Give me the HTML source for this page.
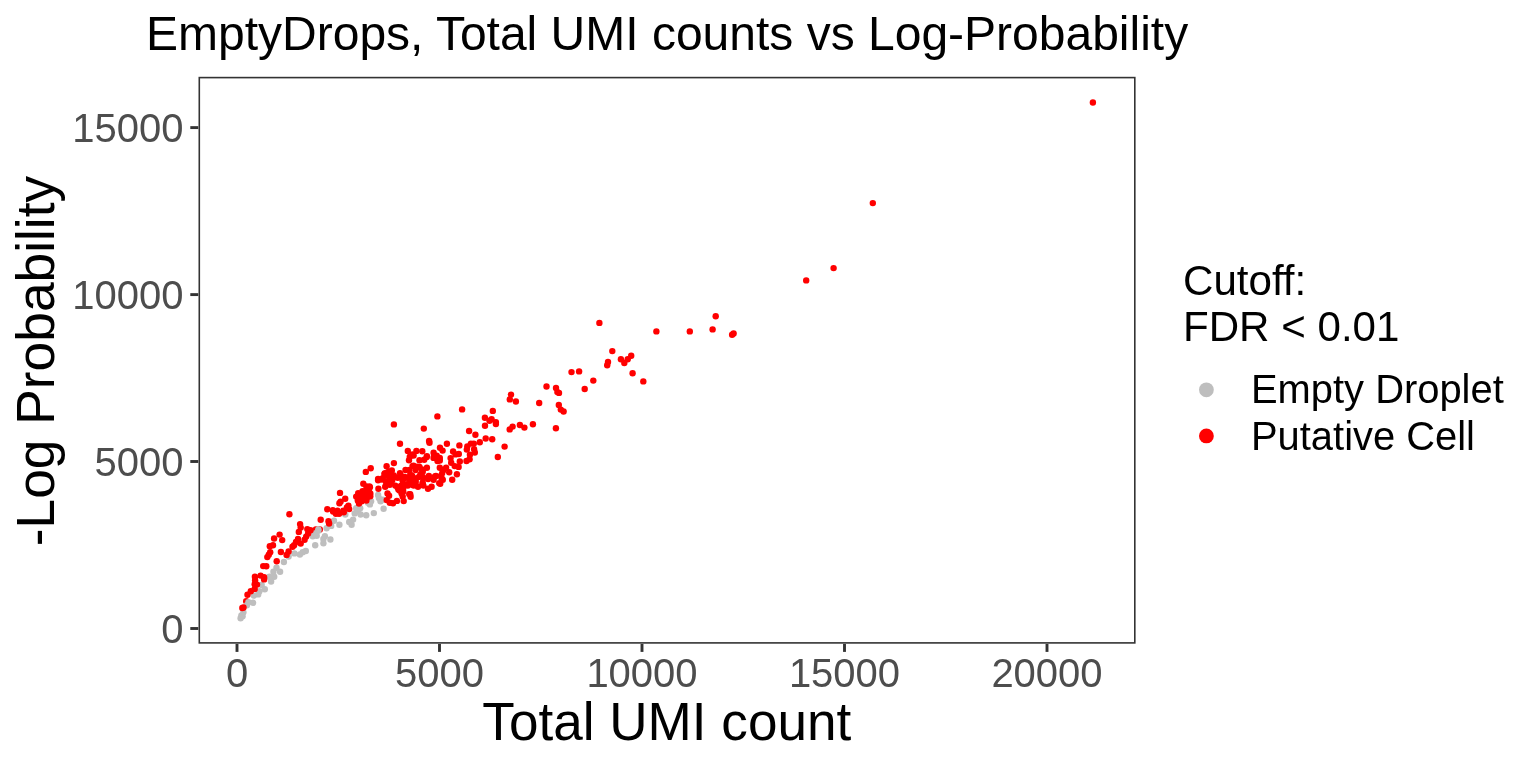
<!DOCTYPE html>
<html><head><meta charset="utf-8"><title>EmptyDrops</title>
<style>
html,body{margin:0;padding:0;background:#fff;}
body{width:1536px;height:768px;overflow:hidden;}
svg{display:block}
text{font-family:"Liberation Sans",Arial,sans-serif;}
.tk{fill:#4d4d4d;font-size:40px}
</style></head><body>
<svg width="1536" height="768" viewBox="0 0 1536 768">
<rect width="1536" height="768" fill="#fff"/>
<text x="146" y="49.7" font-size="48" fill="#000">EmptyDrops, Total UMI counts vs Log-Probability</text>
<g id="pts">
<circle cx="315.9" cy="529.5" r="3.2" fill="#ff0000"/><circle cx="319.8" cy="529.5" r="3.2" fill="#ff0000"/><circle cx="246.2" cy="601.2" r="3.2" fill="#ff0000"/><circle cx="378.1" cy="495.0" r="3.2" fill="#bebebe"/><circle cx="378.9" cy="498.1" r="3.2" fill="#bebebe"/><circle cx="380.5" cy="501.2" r="3.2" fill="#bebebe"/><circle cx="382.8" cy="499.7" r="3.2" fill="#bebebe"/><circle cx="383.6" cy="508.8" r="3.2" fill="#bebebe"/><circle cx="371.1" cy="501.2" r="3.2" fill="#bebebe"/><circle cx="369.9" cy="504.4" r="3.2" fill="#bebebe"/><circle cx="368.0" cy="502.8" r="3.2" fill="#bebebe"/><circle cx="373.8" cy="513.1" r="3.2" fill="#bebebe"/><circle cx="366.2" cy="515.2" r="3.2" fill="#bebebe"/><circle cx="356.2" cy="508.3" r="3.2" fill="#bebebe"/><circle cx="360.2" cy="508.3" r="3.2" fill="#bebebe"/><circle cx="357.8" cy="511.4" r="3.2" fill="#bebebe"/><circle cx="354.7" cy="513.4" r="3.2" fill="#bebebe"/><circle cx="360.6" cy="514.5" r="3.2" fill="#bebebe"/><circle cx="345.3" cy="514.5" r="3.2" fill="#bebebe"/><circle cx="353.1" cy="519.6" r="3.2" fill="#bebebe"/><circle cx="349.2" cy="522.0" r="3.2" fill="#bebebe"/><circle cx="351.6" cy="524.7" r="3.2" fill="#bebebe"/><circle cx="339.4" cy="524.7" r="3.2" fill="#bebebe"/><circle cx="334.0" cy="520.8" r="3.2" fill="#bebebe"/><circle cx="331.2" cy="525.9" r="3.2" fill="#bebebe"/><circle cx="326.6" cy="528.2" r="3.2" fill="#bebebe"/><circle cx="318.4" cy="529.4" r="3.2" fill="#bebebe"/><circle cx="318.3" cy="530.7" r="3.2" fill="#bebebe"/><circle cx="314.4" cy="533.4" r="3.2" fill="#bebebe"/><circle cx="312.8" cy="536.2" r="3.2" fill="#bebebe"/><circle cx="316.7" cy="535.8" r="3.2" fill="#bebebe"/><circle cx="324.9" cy="536.2" r="3.2" fill="#bebebe"/><circle cx="323.4" cy="538.9" r="3.2" fill="#bebebe"/><circle cx="330.4" cy="539.5" r="3.2" fill="#bebebe"/><circle cx="323.4" cy="543.2" r="3.2" fill="#bebebe"/><circle cx="315.2" cy="545.3" r="3.2" fill="#bebebe"/><circle cx="305.8" cy="551.0" r="3.2" fill="#bebebe"/><circle cx="302.7" cy="552.2" r="3.2" fill="#bebebe"/><circle cx="299.9" cy="554.5" r="3.2" fill="#bebebe"/><circle cx="294.4" cy="553.4" r="3.2" fill="#bebebe"/><circle cx="288.6" cy="556.5" r="3.2" fill="#bebebe"/><circle cx="283.9" cy="562.0" r="3.2" fill="#bebebe"/><circle cx="276.5" cy="567.8" r="3.2" fill="#bebebe"/><circle cx="280.1" cy="571.7" r="3.2" fill="#bebebe"/><circle cx="273.4" cy="571.7" r="3.2" fill="#bebebe"/><circle cx="274.2" cy="576.8" r="3.2" fill="#bebebe"/><circle cx="269.5" cy="576.8" r="3.2" fill="#bebebe"/><circle cx="271.1" cy="581.5" r="3.2" fill="#bebebe"/><circle cx="261.7" cy="585.0" r="3.2" fill="#bebebe"/><circle cx="264.8" cy="589.3" r="3.2" fill="#bebebe"/><circle cx="259.4" cy="591.2" r="3.2" fill="#bebebe"/><circle cx="258.2" cy="594.4" r="3.2" fill="#bebebe"/><circle cx="253.9" cy="595.5" r="3.2" fill="#bebebe"/><circle cx="248.4" cy="602.2" r="3.2" fill="#bebebe"/><circle cx="253.1" cy="602.8" r="3.2" fill="#bebebe"/><circle cx="246.9" cy="605.3" r="3.2" fill="#bebebe"/><circle cx="243.4" cy="612.3" r="3.2" fill="#bebebe"/><circle cx="241.4" cy="615.5" r="3.2" fill="#bebebe"/><circle cx="242.6" cy="616.2" r="3.2" fill="#bebebe"/><circle cx="240.6" cy="618.2" r="3.2" fill="#bebebe"/><circle cx="1092.9" cy="102.5" r="3.2" fill="#ff0000"/><circle cx="872.8" cy="203.1" r="3.2" fill="#ff0000"/><circle cx="833.6" cy="268.1" r="3.2" fill="#ff0000"/><circle cx="806.2" cy="280.4" r="3.2" fill="#ff0000"/><circle cx="715.7" cy="316.3" r="3.2" fill="#ff0000"/><circle cx="656.4" cy="331.4" r="3.2" fill="#ff0000"/><circle cx="689.8" cy="331.4" r="3.2" fill="#ff0000"/><circle cx="712.6" cy="329.4" r="3.2" fill="#ff0000"/><circle cx="732.1" cy="334.8" r="3.2" fill="#ff0000"/><circle cx="733.6" cy="333.4" r="3.2" fill="#ff0000"/><circle cx="599.4" cy="322.9" r="3.2" fill="#ff0000"/><circle cx="612.3" cy="351.1" r="3.2" fill="#ff0000"/><circle cx="631.2" cy="355.7" r="3.2" fill="#ff0000"/><circle cx="627.7" cy="359.2" r="3.2" fill="#ff0000"/><circle cx="620.9" cy="359.2" r="3.2" fill="#ff0000"/><circle cx="624.3" cy="363.0" r="3.2" fill="#ff0000"/><circle cx="608.0" cy="361.9" r="3.2" fill="#ff0000"/><circle cx="607.2" cy="365.2" r="3.2" fill="#ff0000"/><circle cx="632.6" cy="373.3" r="3.2" fill="#ff0000"/><circle cx="643.3" cy="381.4" r="3.2" fill="#ff0000"/><circle cx="571.5" cy="372.1" r="3.2" fill="#ff0000"/><circle cx="579.1" cy="371.4" r="3.2" fill="#ff0000"/><circle cx="593.3" cy="380.6" r="3.2" fill="#ff0000"/><circle cx="584.7" cy="389.0" r="3.2" fill="#ff0000"/><circle cx="546.5" cy="386.5" r="3.2" fill="#ff0000"/><circle cx="556.0" cy="387.9" r="3.2" fill="#ff0000"/><circle cx="559.0" cy="392.9" r="3.2" fill="#ff0000"/><circle cx="557.4" cy="392.1" r="3.2" fill="#ff0000"/><circle cx="539.2" cy="403.0" r="3.2" fill="#ff0000"/><circle cx="558.8" cy="405.0" r="3.2" fill="#ff0000"/><circle cx="560.8" cy="409.6" r="3.2" fill="#ff0000"/><circle cx="563.6" cy="411.5" r="3.2" fill="#ff0000"/><circle cx="555.9" cy="428.2" r="3.2" fill="#ff0000"/><circle cx="511.0" cy="394.6" r="3.2" fill="#ff0000"/><circle cx="509.8" cy="399.4" r="3.2" fill="#ff0000"/><circle cx="515.9" cy="401.5" r="3.2" fill="#ff0000"/><circle cx="492.8" cy="410.9" r="3.2" fill="#ff0000"/><circle cx="462.1" cy="409.4" r="3.2" fill="#ff0000"/><circle cx="484.9" cy="417.7" r="3.2" fill="#ff0000"/><circle cx="491.6" cy="419.2" r="3.2" fill="#ff0000"/><circle cx="489.5" cy="420.8" r="3.2" fill="#ff0000"/><circle cx="495.9" cy="422.1" r="3.2" fill="#ff0000"/><circle cx="495.9" cy="424.0" r="3.2" fill="#ff0000"/><circle cx="485.0" cy="425.7" r="3.2" fill="#ff0000"/><circle cx="512.6" cy="426.6" r="3.2" fill="#ff0000"/><circle cx="509.7" cy="429.4" r="3.2" fill="#ff0000"/><circle cx="519.9" cy="425.0" r="3.2" fill="#ff0000"/><circle cx="524.4" cy="427.6" r="3.2" fill="#ff0000"/><circle cx="532.9" cy="424.3" r="3.2" fill="#ff0000"/><circle cx="469.1" cy="431.0" r="3.2" fill="#ff0000"/><circle cx="475.4" cy="434.7" r="3.2" fill="#ff0000"/><circle cx="485.7" cy="438.5" r="3.2" fill="#ff0000"/><circle cx="492.2" cy="439.3" r="3.2" fill="#ff0000"/><circle cx="479.8" cy="442.2" r="3.2" fill="#ff0000"/><circle cx="504.6" cy="446.6" r="3.2" fill="#ff0000"/><circle cx="497.8" cy="457.0" r="3.2" fill="#ff0000"/><circle cx="470.9" cy="443.6" r="3.2" fill="#ff0000"/><circle cx="473.8" cy="443.6" r="3.2" fill="#ff0000"/><circle cx="467.3" cy="446.5" r="3.2" fill="#ff0000"/><circle cx="466.8" cy="449.6" r="3.2" fill="#ff0000"/><circle cx="474.1" cy="449.2" r="3.2" fill="#ff0000"/><circle cx="474.8" cy="452.5" r="3.2" fill="#ff0000"/><circle cx="469.9" cy="454.8" r="3.2" fill="#ff0000"/><circle cx="469.6" cy="459.3" r="3.2" fill="#ff0000"/><circle cx="466.5" cy="461.0" r="3.2" fill="#ff0000"/><circle cx="423.8" cy="428.6" r="3.2" fill="#ff0000"/><circle cx="429.1" cy="440.9" r="3.2" fill="#ff0000"/><circle cx="429.5" cy="442.7" r="3.2" fill="#ff0000"/><circle cx="400.0" cy="443.7" r="3.2" fill="#ff0000"/><circle cx="446.9" cy="443.8" r="3.2" fill="#ff0000"/><circle cx="459.4" cy="445.4" r="3.2" fill="#ff0000"/><circle cx="440.0" cy="447.7" r="3.2" fill="#ff0000"/><circle cx="442.6" cy="450.6" r="3.2" fill="#ff0000"/><circle cx="453.1" cy="451.4" r="3.2" fill="#ff0000"/><circle cx="458.8" cy="454.0" r="3.2" fill="#ff0000"/><circle cx="455.5" cy="454.4" r="3.2" fill="#ff0000"/><circle cx="450.6" cy="458.1" r="3.2" fill="#ff0000"/><circle cx="451.2" cy="462.8" r="3.2" fill="#ff0000"/><circle cx="459.8" cy="461.4" r="3.2" fill="#ff0000"/><circle cx="458.6" cy="466.9" r="3.2" fill="#ff0000"/><circle cx="454.7" cy="466.1" r="3.2" fill="#ff0000"/><circle cx="456.9" cy="474.3" r="3.2" fill="#ff0000"/><circle cx="452.2" cy="479.8" r="3.2" fill="#ff0000"/><circle cx="449.2" cy="472.3" r="3.2" fill="#ff0000"/><circle cx="446.1" cy="467.7" r="3.2" fill="#ff0000"/><circle cx="439.8" cy="467.7" r="3.2" fill="#ff0000"/><circle cx="442.2" cy="473.1" r="3.2" fill="#ff0000"/><circle cx="441.4" cy="477.8" r="3.2" fill="#ff0000"/><circle cx="435.9" cy="475.9" r="3.2" fill="#ff0000"/><circle cx="433.6" cy="452.8" r="3.2" fill="#ff0000"/><circle cx="436.7" cy="455.6" r="3.2" fill="#ff0000"/><circle cx="439.8" cy="457.9" r="3.2" fill="#ff0000"/><circle cx="433.6" cy="457.9" r="3.2" fill="#ff0000"/><circle cx="437.5" cy="461.0" r="3.2" fill="#ff0000"/><circle cx="439.8" cy="460.6" r="3.2" fill="#ff0000"/><circle cx="407.8" cy="450.9" r="3.2" fill="#ff0000"/><circle cx="416.4" cy="450.9" r="3.2" fill="#ff0000"/><circle cx="422.3" cy="451.2" r="3.2" fill="#ff0000"/><circle cx="412.5" cy="454.4" r="3.2" fill="#ff0000"/><circle cx="409.8" cy="456.7" r="3.2" fill="#ff0000"/><circle cx="409.0" cy="460.2" r="3.2" fill="#ff0000"/><circle cx="426.9" cy="456.1" r="3.2" fill="#ff0000"/><circle cx="424.2" cy="459.8" r="3.2" fill="#ff0000"/><circle cx="419.5" cy="460.2" r="3.2" fill="#ff0000"/><circle cx="412.5" cy="466.1" r="3.2" fill="#ff0000"/><circle cx="419.5" cy="466.9" r="3.2" fill="#ff0000"/><circle cx="426.9" cy="467.8" r="3.2" fill="#ff0000"/><circle cx="415.6" cy="470.0" r="3.2" fill="#ff0000"/><circle cx="422.7" cy="470.8" r="3.2" fill="#ff0000"/><circle cx="405.5" cy="470.0" r="3.2" fill="#ff0000"/><circle cx="400.0" cy="473.1" r="3.2" fill="#ff0000"/><circle cx="410.2" cy="474.7" r="3.2" fill="#ff0000"/><circle cx="420.3" cy="474.7" r="3.2" fill="#ff0000"/><circle cx="428.9" cy="475.9" r="3.2" fill="#ff0000"/><circle cx="423.4" cy="477.8" r="3.2" fill="#ff0000"/><circle cx="442.8" cy="479.8" r="3.2" fill="#ff0000"/><circle cx="440.2" cy="483.7" r="3.2" fill="#ff0000"/><circle cx="433.6" cy="479.8" r="3.2" fill="#ff0000"/><circle cx="428.1" cy="479.0" r="3.2" fill="#ff0000"/><circle cx="431.6" cy="486.8" r="3.2" fill="#ff0000"/><circle cx="428.0" cy="488.8" r="3.2" fill="#ff0000"/><circle cx="422.7" cy="482.5" r="3.2" fill="#ff0000"/><circle cx="423.4" cy="485.6" r="3.2" fill="#ff0000"/><circle cx="418.0" cy="486.8" r="3.2" fill="#ff0000"/><circle cx="413.7" cy="485.6" r="3.2" fill="#ff0000"/><circle cx="415.6" cy="480.2" r="3.2" fill="#ff0000"/><circle cx="404.7" cy="477.0" r="3.2" fill="#ff0000"/><circle cx="410.2" cy="480.2" r="3.2" fill="#ff0000"/><circle cx="402.7" cy="484.8" r="3.2" fill="#ff0000"/><circle cx="407.0" cy="484.1" r="3.2" fill="#ff0000"/><circle cx="403.1" cy="488.8" r="3.2" fill="#ff0000"/><circle cx="402.3" cy="492.7" r="3.2" fill="#ff0000"/><circle cx="402.7" cy="496.6" r="3.2" fill="#ff0000"/><circle cx="403.7" cy="501.1" r="3.2" fill="#ff0000"/><circle cx="409.2" cy="494.1" r="3.2" fill="#ff0000"/><circle cx="410.6" cy="496.7" r="3.2" fill="#ff0000"/><circle cx="393.9" cy="424.4" r="3.2" fill="#ff0000"/><circle cx="393.9" cy="463.1" r="3.2" fill="#ff0000"/><circle cx="386.6" cy="466.2" r="3.2" fill="#ff0000"/><circle cx="370.7" cy="468.3" r="3.2" fill="#ff0000"/><circle cx="365.8" cy="471.9" r="3.2" fill="#ff0000"/><circle cx="391.8" cy="470.4" r="3.2" fill="#ff0000"/><circle cx="388.3" cy="471.9" r="3.2" fill="#ff0000"/><circle cx="384.4" cy="473.9" r="3.2" fill="#ff0000"/><circle cx="378.1" cy="479.0" r="3.2" fill="#ff0000"/><circle cx="382.8" cy="478.2" r="3.2" fill="#ff0000"/><circle cx="393.8" cy="475.5" r="3.2" fill="#ff0000"/><circle cx="401.6" cy="476.2" r="3.2" fill="#ff0000"/><circle cx="409.4" cy="470.0" r="3.2" fill="#ff0000"/><circle cx="378.1" cy="480.2" r="3.2" fill="#ff0000"/><circle cx="385.9" cy="474.7" r="3.2" fill="#ff0000"/><circle cx="389.8" cy="472.3" r="3.2" fill="#ff0000"/><circle cx="397.7" cy="477.8" r="3.2" fill="#ff0000"/><circle cx="392.2" cy="480.2" r="3.2" fill="#ff0000"/><circle cx="385.9" cy="481.7" r="3.2" fill="#ff0000"/><circle cx="389.8" cy="484.8" r="3.2" fill="#ff0000"/><circle cx="385.2" cy="486.8" r="3.2" fill="#ff0000"/><circle cx="395.3" cy="485.6" r="3.2" fill="#ff0000"/><circle cx="398.4" cy="489.5" r="3.2" fill="#ff0000"/><circle cx="401.6" cy="485.6" r="3.2" fill="#ff0000"/><circle cx="405.5" cy="477.8" r="3.2" fill="#ff0000"/><circle cx="413.3" cy="477.8" r="3.2" fill="#ff0000"/><circle cx="415.6" cy="482.5" r="3.2" fill="#ff0000"/><circle cx="412.5" cy="484.8" r="3.2" fill="#ff0000"/><circle cx="407.8" cy="485.6" r="3.2" fill="#ff0000"/><circle cx="401.6" cy="493.4" r="3.2" fill="#ff0000"/><circle cx="410.2" cy="494.2" r="3.2" fill="#ff0000"/><circle cx="378.4" cy="488.8" r="3.2" fill="#ff0000"/><circle cx="387.5" cy="493.4" r="3.2" fill="#ff0000"/><circle cx="389.1" cy="495.8" r="3.2" fill="#ff0000"/><circle cx="386.7" cy="500.1" r="3.2" fill="#ff0000"/><circle cx="389.8" cy="502.8" r="3.2" fill="#ff0000"/><circle cx="393.0" cy="503.2" r="3.2" fill="#ff0000"/><circle cx="396.9" cy="500.9" r="3.2" fill="#ff0000"/><circle cx="363.3" cy="483.7" r="3.2" fill="#ff0000"/><circle cx="366.4" cy="486.4" r="3.2" fill="#ff0000"/><circle cx="369.5" cy="486.4" r="3.2" fill="#ff0000"/><circle cx="368.8" cy="490.3" r="3.2" fill="#ff0000"/><circle cx="370.3" cy="493.4" r="3.2" fill="#ff0000"/><circle cx="366.4" cy="494.2" r="3.2" fill="#ff0000"/><circle cx="370.3" cy="496.2" r="3.2" fill="#ff0000"/><circle cx="364.8" cy="498.9" r="3.2" fill="#ff0000"/><circle cx="358.2" cy="493.1" r="3.2" fill="#ff0000"/><circle cx="356.2" cy="496.6" r="3.2" fill="#ff0000"/><circle cx="359.4" cy="496.6" r="3.2" fill="#ff0000"/><circle cx="357.8" cy="500.5" r="3.2" fill="#ff0000"/><circle cx="359.0" cy="503.6" r="3.2" fill="#ff0000"/><circle cx="361.7" cy="501.2" r="3.2" fill="#ff0000"/><circle cx="366.4" cy="500.5" r="3.2" fill="#ff0000"/><circle cx="340.0" cy="492.9" r="3.2" fill="#ff0000"/><circle cx="345.2" cy="498.8" r="3.2" fill="#ff0000"/><circle cx="340.6" cy="501.6" r="3.2" fill="#ff0000"/><circle cx="339.4" cy="503.2" r="3.2" fill="#ff0000"/><circle cx="348.4" cy="505.6" r="3.2" fill="#ff0000"/><circle cx="346.9" cy="507.5" r="3.2" fill="#ff0000"/><circle cx="349.2" cy="509.1" r="3.2" fill="#ff0000"/><circle cx="327.3" cy="509.3" r="3.2" fill="#ff0000"/><circle cx="332.8" cy="510.2" r="3.2" fill="#ff0000"/><circle cx="337.5" cy="510.6" r="3.2" fill="#ff0000"/><circle cx="335.9" cy="513.8" r="3.2" fill="#ff0000"/><circle cx="339.1" cy="513.8" r="3.2" fill="#ff0000"/><circle cx="343.8" cy="512.2" r="3.2" fill="#ff0000"/><circle cx="320.7" cy="519.8" r="3.2" fill="#ff0000"/><circle cx="328.5" cy="521.2" r="3.2" fill="#ff0000"/><circle cx="329.1" cy="523.5" r="3.2" fill="#ff0000"/><circle cx="289.4" cy="514.3" r="3.2" fill="#ff0000"/><circle cx="333.1" cy="511.6" r="3.2" fill="#ff0000"/><circle cx="343.3" cy="510.8" r="3.2" fill="#ff0000"/><circle cx="300.1" cy="524.1" r="3.2" fill="#ff0000"/><circle cx="300.7" cy="527.6" r="3.2" fill="#ff0000"/><circle cx="298.8" cy="531.9" r="3.2" fill="#ff0000"/><circle cx="307.3" cy="529.1" r="3.2" fill="#ff0000"/><circle cx="310.5" cy="530.3" r="3.2" fill="#ff0000"/><circle cx="308.1" cy="533.4" r="3.2" fill="#ff0000"/><circle cx="306.2" cy="536.6" r="3.2" fill="#ff0000"/><circle cx="304.6" cy="539.7" r="3.2" fill="#ff0000"/><circle cx="298.0" cy="538.9" r="3.2" fill="#ff0000"/><circle cx="296.0" cy="542.0" r="3.2" fill="#ff0000"/><circle cx="300.7" cy="543.6" r="3.2" fill="#ff0000"/><circle cx="294.1" cy="545.2" r="3.2" fill="#ff0000"/><circle cx="292.5" cy="546.7" r="3.2" fill="#ff0000"/><circle cx="279.6" cy="534.6" r="3.2" fill="#ff0000"/><circle cx="274.1" cy="538.5" r="3.2" fill="#ff0000"/><circle cx="282.2" cy="540.1" r="3.2" fill="#ff0000"/><circle cx="273.0" cy="545.2" r="3.2" fill="#ff0000"/><circle cx="269.8" cy="546.3" r="3.2" fill="#ff0000"/><circle cx="270.2" cy="552.2" r="3.2" fill="#ff0000"/><circle cx="268.8" cy="554.7" r="3.2" fill="#ff0000"/><circle cx="267.3" cy="557.1" r="3.2" fill="#ff0000"/><circle cx="280.9" cy="552.0" r="3.2" fill="#ff0000"/><circle cx="288.6" cy="551.4" r="3.2" fill="#ff0000"/><circle cx="286.6" cy="554.9" r="3.2" fill="#ff0000"/><circle cx="276.7" cy="561.3" r="3.2" fill="#ff0000"/><circle cx="263.2" cy="566.1" r="3.2" fill="#ff0000"/><circle cx="266.3" cy="566.2" r="3.2" fill="#ff0000"/><circle cx="254.9" cy="576.8" r="3.2" fill="#ff0000"/><circle cx="260.6" cy="575.6" r="3.2" fill="#ff0000"/><circle cx="264.1" cy="577.2" r="3.2" fill="#ff0000"/><circle cx="264.1" cy="579.4" r="3.2" fill="#ff0000"/><circle cx="255.1" cy="580.3" r="3.2" fill="#ff0000"/><circle cx="254.7" cy="584.2" r="3.2" fill="#ff0000"/><circle cx="257.0" cy="584.6" r="3.2" fill="#ff0000"/><circle cx="254.7" cy="588.9" r="3.2" fill="#ff0000"/><circle cx="250.8" cy="591.2" r="3.2" fill="#ff0000"/><circle cx="247.5" cy="594.8" r="3.2" fill="#ff0000"/><circle cx="243.5" cy="607.5" r="3.2" fill="#ff0000"/><circle cx="242.3" cy="608.0" r="3.2" fill="#ff0000"/><circle cx="437.4" cy="416.4" r="3.2" fill="#ff0000"/><circle cx="385.0" cy="473.2" r="3.2" fill="#ff0000"/><circle cx="381.9" cy="479.5" r="3.2" fill="#ff0000"/><circle cx="413.6" cy="455.5" r="3.2" fill="#ff0000"/><circle cx="426.7" cy="457.1" r="3.2" fill="#ff0000"/><circle cx="435.5" cy="458.1" r="3.2" fill="#ff0000"/><circle cx="438.1" cy="460.2" r="3.2" fill="#ff0000"/><circle cx="434.0" cy="456.0" r="3.2" fill="#ff0000"/><circle cx="422.5" cy="472.2" r="3.2" fill="#ff0000"/><circle cx="418.9" cy="476.9" r="3.2" fill="#ff0000"/><circle cx="412.1" cy="475.8" r="3.2" fill="#ff0000"/><circle cx="408.4" cy="477.9" r="3.2" fill="#ff0000"/><circle cx="435.0" cy="476.4" r="3.2" fill="#ff0000"/><circle cx="439.2" cy="483.1" r="3.2" fill="#ff0000"/><circle cx="422.5" cy="484.2" r="3.2" fill="#ff0000"/><circle cx="414.2" cy="484.7" r="3.2" fill="#ff0000"/><circle cx="369.9" cy="487.3" r="3.2" fill="#ff0000"/><circle cx="367.8" cy="490.4" r="3.2" fill="#ff0000"/><circle cx="364.2" cy="491.5" r="3.2" fill="#ff0000"/><circle cx="387.1" cy="484.2" r="3.2" fill="#ff0000"/><circle cx="391.2" cy="483.1" r="3.2" fill="#ff0000"/><circle cx="389.2" cy="477.9" r="3.2" fill="#ff0000"/><circle cx="393.9" cy="476.9" r="3.2" fill="#ff0000"/><circle cx="400.6" cy="486.2" r="3.2" fill="#ff0000"/><circle cx="397.5" cy="487.3" r="3.2" fill="#ff0000"/><circle cx="399.6" cy="490.4" r="3.2" fill="#ff0000"/><circle cx="403.2" cy="491.5" r="3.2" fill="#ff0000"/><circle cx="443.2" cy="470.2" r="3.2" fill="#ff0000"/><circle cx="441.1" cy="475.6" r="3.2" fill="#ff0000"/><circle cx="421.9" cy="469.4" r="3.2" fill="#ff0000"/><circle cx="417.2" cy="466.8" r="3.2" fill="#ff0000"/><circle cx="413.5" cy="465.7" r="3.2" fill="#ff0000"/><circle cx="402.6" cy="480.8" r="3.2" fill="#ff0000"/><circle cx="406.2" cy="485.0" r="3.2" fill="#ff0000"/><circle cx="363.3" cy="495.0" r="3.2" fill="#ff0000"/><circle cx="367.2" cy="497.3" r="3.2" fill="#ff0000"/><circle cx="362.5" cy="491.1" r="3.2" fill="#ff0000"/>
</g>
<rect x="199.3" y="77.6" width="935.5" height="565.3" fill="none" stroke="#333" stroke-width="1.6"/>
<line x1="237.0" x2="237.0" y1="643.9" y2="651.9" stroke="#333" stroke-width="2.9"/><text class="tk" x="237.0" y="686.6" text-anchor="middle">0</text>
<line x1="439.5" x2="439.5" y1="643.9" y2="651.9" stroke="#333" stroke-width="2.9"/><text class="tk" x="439.5" y="686.6" text-anchor="middle">5000</text>
<line x1="642.0" x2="642.0" y1="643.9" y2="651.9" stroke="#333" stroke-width="2.9"/><text class="tk" x="642.0" y="686.6" text-anchor="middle">10000</text>
<line x1="844.5" x2="844.5" y1="643.9" y2="651.9" stroke="#333" stroke-width="2.9"/><text class="tk" x="844.5" y="686.6" text-anchor="middle">15000</text>
<line x1="1047.0" x2="1047.0" y1="643.9" y2="651.9" stroke="#333" stroke-width="2.9"/><text class="tk" x="1047.0" y="686.6" text-anchor="middle">20000</text>
<line x1="190.3" x2="198.3" y1="628.5" y2="628.5" stroke="#333" stroke-width="2.9"/><text class="tk" x="183.6" y="642.7" text-anchor="end">0</text>
<line x1="190.3" x2="198.3" y1="461.5" y2="461.5" stroke="#333" stroke-width="2.9"/><text class="tk" x="183.6" y="475.7" text-anchor="end">5000</text>
<line x1="190.3" x2="198.3" y1="294.6" y2="294.6" stroke="#333" stroke-width="2.9"/><text class="tk" x="183.6" y="308.8" text-anchor="end">10000</text>
<line x1="190.3" x2="198.3" y1="127.6" y2="127.6" stroke="#333" stroke-width="2.9"/><text class="tk" x="183.6" y="141.8" text-anchor="end">15000</text>
<text x="666.8" y="740" font-size="53.1" text-anchor="middle" fill="#000">Total UMI count</text>
<text transform="translate(54.2,361) rotate(-90)" font-size="53.3" text-anchor="middle" fill="#000">-Log Probability</text>
<text x="1183" y="294.9" font-size="42.1" fill="#000">Cutoff:</text>
<text x="1183" y="341.4" font-size="42.1" fill="#000">FDR &lt; 0.01</text>
<circle cx="1206.4" cy="389.8" r="7.4" fill="#bebebe"/><circle cx="1206.4" cy="435.9" r="7.4" fill="#ff0000"/>
<text x="1251" y="403.1" font-size="39.9" fill="#000">Empty Droplet</text>
<text x="1251" y="449.5" font-size="39.9" fill="#000">Putative Cell</text>
</svg></body></html>
